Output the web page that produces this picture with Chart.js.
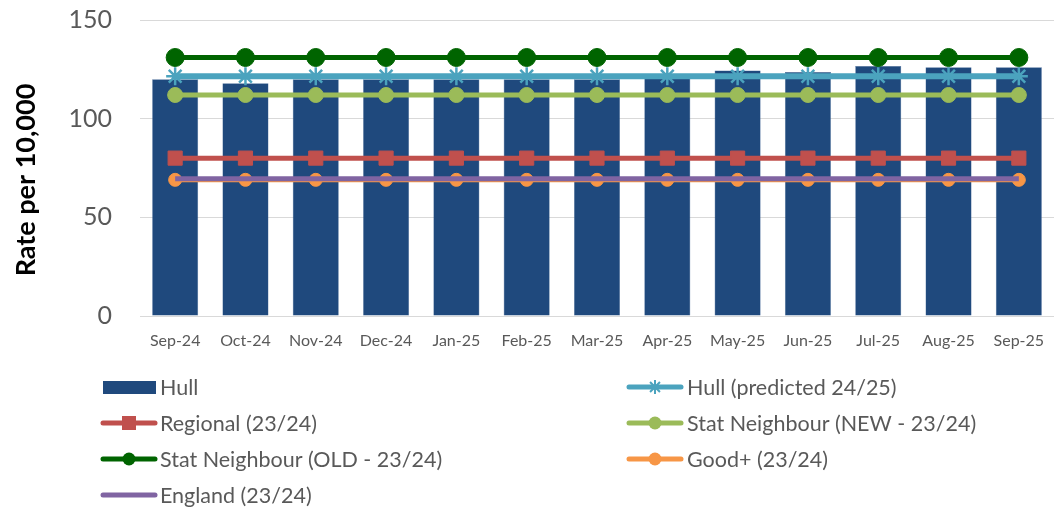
<!DOCTYPE html>
<html><head><meta charset="utf-8">
<script src="https://cdn.jsdelivr.net/npm/chart.js@4/dist/chart.umd.min.js"></script>
<style>html,body{margin:0;padding:0;background:#fff;}#wrap{width:1054px;height:512px;position:relative;}</style>
</head><body><div id="wrap"><canvas id="c" width="1054" height="512"></canvas></div>
<script>
const categories = ["Sep-24","Oct-24","Nov-24","Dec-24","Jan-25","Feb-25","Mar-25","Apr-25","May-25","Jun-25","Jul-25","Aug-25","Sep-25"];
const hull = [120,118,120,120,120,120,120,122.5,124.4,123.6,126.7,126,126];
const hullPredicted = Array(13).fill(121.5);
const regional = Array(13).fill(80);
const statNew = Array(13).fill(112);
const statOld = Array(13).fill(131);
const goodPlus = Array(13).fill(69);
const england = Array(13).fill(69.6);
const yTicks = [0,50,100,150];
const yTitle = 'Rate per 10,000';

const FONT = "Lato, 'Open Sans', sans-serif";
const GREY = "#595959";

const lineDs = (label, data, color, style, radius, order, width) => ({
  type: 'line', label, data, borderColor: color, backgroundColor: color,
  borderWidth: width || 5, pointStyle: style, pointRadius: radius, pointHoverRadius: radius,
  pointBorderWidth: style === 'star' ? 2.5 : 1, pointBorderColor: color, pointBackgroundColor: color,
  order, tension: 0
});

const datasets = [
  {type:'bar', label:'Hull', data: hull, backgroundColor:'#1F497D', borderColor:'#4a6d9a', borderWidth:0.5, order: 10, barPercentage:0.655, categoryPercentage:1},
  lineDs('Hull (predicted 24/25)', hullPredicted, '#4BA3BE', 'star', 9, 6, 6),
  lineDs('Regional (23/24)', regional, '#C0504D', 'rect', 10, 5),
  lineDs('Stat Neighbour (NEW - 23/24)', statNew, '#9BBB59', 'circle', 7.5, 4),
  lineDs('Stat Neighbour (OLD - 23/24)', statOld, '#006400', 'circle', 9, 3),
  lineDs('Good+ (23/24)', goodPlus, '#F79646', 'circle', 6.5, 2),
  lineDs('England (23/24)', england, '#8064A2', false, 0, 1)
];

const legendPlugin = {
  id: 'customLegend',
  afterDraw(chart) {
    const ctx = chart.ctx;
    const cols = [{sx:101, tx:160},{sx:627, tx:687}];
    const rows = [387,423,459,495];
    ctx.save();
    // y-axis title
    ctx.save();
    ctx.translate(26, 180);
    ctx.rotate(-Math.PI / 2);
    ctx.font = "bold 27px " + FONT;
    ctx.fillStyle = '#000';
    ctx.textAlign = 'center';
    ctx.textBaseline = 'middle';
    ctx.fillText(yTitle, 0, 0);
    ctx.restore();

    ctx.font = "21.5px " + FONT;
    ctx.textBaseline = 'middle';
    chart.data.datasets.forEach((ds, i) => {
      const col = cols[i % 2];
      const y = rows[Math.floor(i / 2)];
      if (ds.type === 'bar') {
        ctx.fillStyle = ds.backgroundColor;
        ctx.fillRect(col.sx + 2, y - 6, 53, 13);
      } else {
        ctx.strokeStyle = ds.borderColor;
        ctx.lineWidth = 5;
        ctx.lineCap = 'round';
        ctx.beginPath();
        ctx.moveTo(col.sx + 2, y); ctx.lineTo(col.sx + 54, y);
        ctx.stroke();
        ctx.fillStyle = ds.borderColor;
        const cx = col.sx + 28;
        if (ds.pointStyle === 'circle') { ctx.beginPath(); ctx.arc(cx, y, 6.5, 0, Math.PI*2); ctx.fill(); }
        else if (ds.pointStyle === 'rect') { ctx.fillRect(cx - 7, y - 7, 14, 14); }
        else if (ds.pointStyle === 'star') {
          ctx.lineWidth = 2;
          ctx.lineCap = 'butt';
          Chart.helpers.drawPoint(ctx, {pointStyle:'star', radius:7, borderWidth:2, rotation:0}, cx, y);
        }
      }
      ctx.fillStyle = GREY;
      ctx.fillText(ds.label, col.tx, y + 1);
    });
    ctx.restore();
  }
};

new Chart(document.getElementById('c'), {
  data: { labels: categories, datasets },
  options: {
    responsive: false, animation: false,
    layout: { autoPadding: false, padding: { top: 20, right: 0, left: 0, bottom: 0 } },
    plugins: { legend: { display: false }, tooltip: { enabled: false } },
    scales: {
      x: {
        offset: true,
        grid: { display: false, drawTicks: true, tickLength: 15, tickColor: 'rgba(0,0,0,0)' },
        border: { display: false },
        ticks: { color: GREY, font: { family: FONT, size: 16 }, padding: 0, maxRotation: 0, autoSkip: false },
        afterFit(s) { s.height = 196; s.paddingRight = 0; s.paddingLeft = 0; }
      },
      y: {
        min: 0, max: 150,
        afterBuildTicks(s) { s.ticks = yTicks.map(v => ({ value: v })); },
        grid: { color: '#D9D9D9', lineWidth: 1, drawTicks: true, tickLength: 28, tickColor: 'rgba(0,0,0,0)' },
        border: { display: false },
        ticks: { color: GREY, font: { family: FONT, size: 25 }, padding: 0 },
        title: { display: false },
        afterFit(s) { s.width = 140; }
      }
    }
  },
  plugins: [legendPlugin]
});
</script></body></html>
